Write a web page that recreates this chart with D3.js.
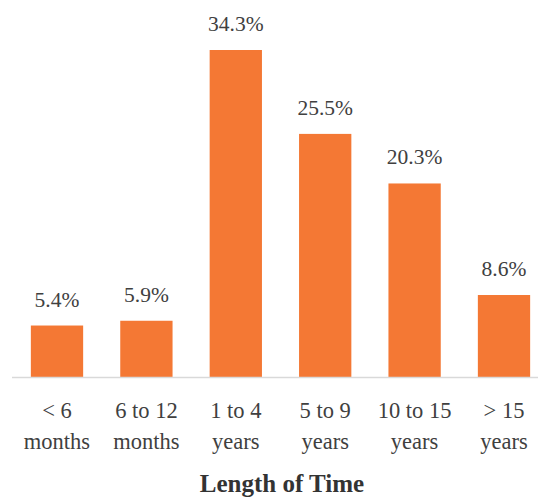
<!DOCTYPE html>
<html>
<head>
<meta charset="utf-8">
<script src="https://cdn.jsdelivr.net/npm/d3@7"></script>
<style>
  html, body { margin: 0; padding: 0; background: #fff; }
  svg { display: block; }
</style>
</head>
<body>
<svg id="chart" width="538" height="497"></svg>
<script>
// Share of respondents by length of time
const categories = [["< 6", "months"], ["6 to 12", "months"], ["1 to 4", "years"], ["5 to 9", "years"], ["10 to 15", "years"], ["> 15", "years"]];
const values = [5.4, 5.9, 34.3, 25.5, 20.3, 8.6];
const axisTitle = "Length of Time";

const FONT = '"Liberation Serif"';
const TEXT_COLOR = "#404040";

const svg = d3.select("#chart");
const baseY = 377;

const x = d3.scaleBand()
  .domain(d3.range(categories.length))
  .range([12.3, 548.7])
  .paddingInner(0.415)
  .paddingOuter(0.2075);

const y = d3.scaleLinear()
  .domain([0, 34.3])
  .range([baseY, 50]);

// bars
svg.append("g").selectAll("rect")
  .data(values)
  .join("rect")
  .attr("x", (d, i) => x(i))
  .attr("width", x.bandwidth())
  .attr("y", d => y(d))
  .attr("height", d => baseY - y(d))
  .attr("fill", "#F47834");

// baseline
svg.append("line")
  .attr("x1", 12).attr("x2", 538)
  .attr("y1", baseY + 0.5).attr("y2", baseY + 0.5)
  .attr("stroke", "#D9D9D9")
  .attr("stroke-width", 1.5);

// value labels
svg.append("g").selectAll("text")
  .data(values)
  .join("text")
  .attr("x", (d, i) => x(i) + x.bandwidth() / 2)
  .attr("y", d => y(d) - 19)
  .attr("text-anchor", "middle")
  .style("font-family", FONT)
  .style("font-size", "21.5px")
  .style("fill", TEXT_COLOR)
  .text(d => d.toFixed(1) + "%");

// category labels (two lines)
const cat = svg.append("g").selectAll("text")
  .data(categories)
  .join("text")
  .attr("text-anchor", "middle")
  .style("font-family", FONT)
  .style("font-size", "22.5px")
  .style("fill", TEXT_COLOR);
cat.selectAll("tspan")
  .data((d, i) => d.map(t => ({ t, i })))
  .join("tspan")
  .attr("x", d => x(d.i) + x.bandwidth() / 2)
  .attr("y", (d, j) => 418 + j * 31)
  .text(d => d.t);

// axis title
svg.append("text")
  .attr("x", 282)
  .attr("y", 492)
  .attr("text-anchor", "middle")
  .style("font-family", FONT)
  .style("font-size", "25px")
  .style("font-weight", "bold")
  .style("fill", "#333")
  .text(axisTitle);
</script>
</body>
</html>
